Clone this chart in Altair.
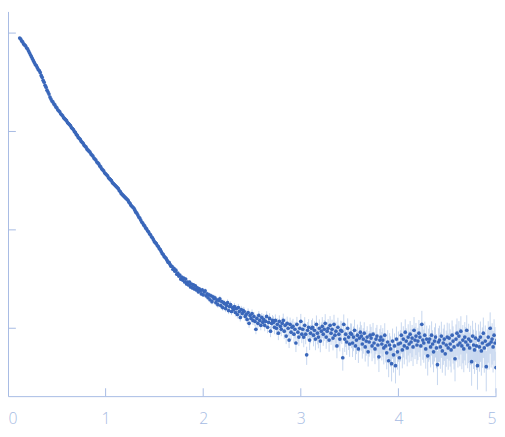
import altair as alt
import pandas as pd

# q grid: 0.12 .. 5.01, step 0.01 (one row below = 0.1 in q)
Q_START = 0.12
# log10(intensity) * 100, relative to the top tick
logI_rows = [
    [-5, -6, -8, -9, -11, -12, -13, -15, -16, -18],
    [-20, -22, -24, -26, -28, -30, -32, -33, -35, -37],
    [-38, -40, -43, -45, -48, -50, -53, -55, -58, -60],
    [-62, -65, -67, -69, -70, -72, -73, -75, -76, -78],
    [-79, -80, -82, -83, -84, -86, -87, -88, -89, -91],
    [-92, -93, -94, -96, -97, -98, -100, -101, -103, -104],
    [-106, -107, -108, -110, -111, -112, -114, -115, -116, -118],
    [-119, -120, -121, -123, -124, -125, -127, -128, -129, -131],
    [-132, -133, -135, -136, -138, -139, -140, -142, -143, -144],
    [-145, -147, -148, -149, -150, -152, -153, -154, -155, -156],
    [-157, -158, -160, -161, -163, -164, -165, -166, -167, -168],
    [-169, -170, -172, -173, -175, -176, -177, -178, -180, -182],
    [-183, -185, -187, -188, -190, -192, -193, -195, -196, -198],
    [-199, -201, -202, -204, -205, -207, -208, -210, -212, -213],
    [-214, -216, -217, -219, -220, -222, -224, -225, -227, -228],
    [-229, -231, -233, -233, -235, -237, -237, -240, -239, -242],
    [-241, -245, -244, -247, -246, -250, -248, -251, -249, -253],
    [-250, -255, -253, -256, -253, -258, -255, -259, -256, -260],
    [-257, -261, -259, -263, -260, -262, -265, -261, -266, -263],
    [-262, -267, -265, -269, -266, -271, -267, -273, -268, -270],
    [-269, -274, -271, -276, -272, -270, -277, -273, -279, -274],
    [-275, -280, -277, -274, -282, -278, -276, -283, -279, -281],
    [-278, -284, -280, -286, -279, -283, -289, -281, -285, -282],
    [-283, -288, -286, -291, -284, -295, -287, -290, -285, -292],
    [-288, -293, -301, -290, -295, -287, -292, -297, -289, -294],
    [-291, -297, -293, -288, -299, -294, -290, -303, -295, -292],
    [-294, -299, -292, -300, -296, -305, -293, -298, -301, -295],
    [-292, -303, -297, -308, -295, -300, -312, -296, -304, -299],
    [-298, -306, -301, -315, -296, -304, -309, -300, -293, -306],
    [-301, -309, -297, -306, -327, -302, -299, -312, -305, -300],
    [-299, -307, -302, -311, -296, -305, -309, -300, -313, -303],
    [-298, -306, -301, -295, -309, -303, -300, -312, -297, -305],
    [-301, -310, -296, -307, -303, -318, -299, -306, -311, -302],
    [-303, -330, -296, -311, -306, -314, -300, -309, -316, -305],
    [-306, -315, -309, -302, -318, -312, -307, -321, -310, -304],
    [-308, -316, -311, -305, -319, -313, -309, -324, -314, -307],
    [-310, -318, -306, -315, -321, -311, -308, -317, -329, -312],
    [-309, -316, -312, -320, -307, -318, -325, -314, -333, -317],
    [-321, -336, -313, -327, -318, -338, -311, -324, -316, -330],
    [-315, -307, -322, -311, -318, -304, -313, -320, -309, -316],
    [-306, -314, -310, -319, -302, -312, -308, -317, -313, -305],
    [-309, -318, -296, -312, -315, -307, -321, -311, -328, -314],
    [-311, -319, -307, -316, -324, -313, -309, -320, -337, -314],
    [-312, -319, -308, -323, -315, -311, -326, -317, -309, -320],
    [-310, -316, -322, -307, -313, -319, -331, -311, -305, -317],
    [-308, -315, -303, -318, -312, -321, -309, -314, -302, -317],
    [-311, -320, -313, -334, -308, -317, -322, -310, -318, -338],
    [-312, -319, -309, -323, -315, -305, -320, -313, -339, -317],
    [-309, -316, -300, -314, -311, -319, -307, -315, -340, -312],
]
# relative error (%) for each row of ten points
rel_err_rows = [1, 1, 1, 1, 1, 1, 1, 1, 1, 1, 1, 1, 1, 2, 2, 3, 3, 4, 5, 6,
                7, 8, 9, 10, 11, 13, 15, 17, 19, 21, 23, 24, 25, 26, 28, 29,
                30, 32, 34, 35, 36, 37, 38, 40, 41, 42, 43, 44, 45]

x_ticks = [0, 1, 2, 3, 4, 5]
y_ticks = [1, 0.1, 0.01, 0.001]

rows = []
for r, (vals, e) in enumerate(zip(logI_rows, rel_err_rows)):
    for i, v in enumerate(vals):
        q = round(Q_START + 0.1 * r + 0.01 * i, 2)
        I = 10 ** (v / 100.0)
        s = I * e / 100.0
        rows.append({"q": q, "I": I, "lo": I - s, "hi": I + s})
df = pd.DataFrame(rows)

AXC = "#a6bbe3"
xs = alt.Scale(domain=[0, 5], nice=False, zero=False)
ys = alt.Scale(type="log", domain=[10 ** -3.69, 10 ** 0.22], nice=False)

base = alt.Chart(df)

err = base.mark_rule(color="#aec4e8", opacity=0.7, strokeWidth=1, clip=True).encode(
    x=alt.X("q:Q", scale=xs,
            axis=alt.Axis(values=x_ticks, format="d", title=None, tickSize=0, grid=False,
                          labelFontSize=16, labelColor=AXC, labelPadding=15,
                          labelFont="Open Sans", labelFontWeight=300,
                          domainColor=AXC, labelFlush=True)),
    y=alt.Y("lo:Q", scale=ys,
            axis=alt.Axis(values=y_ticks, title=None, labels=False, tickSize=0,
                          grid=False, domainColor=AXC)),
    y2="hi:Q",
)

pts = base.mark_circle(size=14, color="#3a67ba", opacity=1, clip=True).encode(
    x=alt.X("q:Q", scale=xs),
    y=alt.Y("I:Q", scale=ys),
)

xt = alt.Chart(pd.DataFrame({"t": x_ticks})).mark_rule(color=AXC, strokeWidth=1).encode(
    x=alt.X("t:Q", scale=xs),
    y=alt.value(391),
    y2=alt.value(383),
)
yt = alt.Chart(pd.DataFrame({"t": y_ticks})).mark_rule(color=AXC, strokeWidth=1).encode(
    y=alt.Y("t:Q", scale=ys),
    x=alt.value(0),
    x2=alt.value(8),
)

chart = alt.layer(err, pts, xt, yt).properties(
    width=496,
    height=391,
    autosize=alt.AutoSizeParams(type="none"),
    padding={"left": 0, "top": 0, "right": 1, "bottom": 36},
).configure(background="white").configure_view(stroke=None)

chart.save("out.html", embed_options={"renderer": "svg", "actions": False})
